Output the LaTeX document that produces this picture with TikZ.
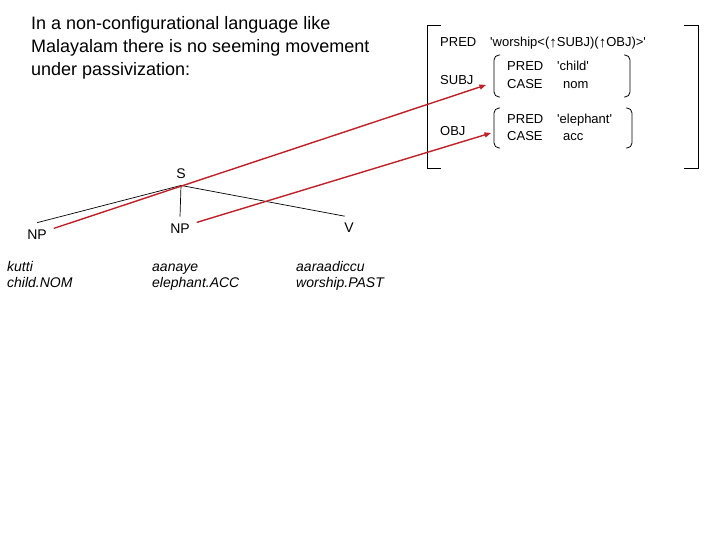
\documentclass[tikz,border=0pt]{standalone}
\usepackage{fontspec}
\setmainfont{Liberation Sans}[Ligatures=TeXOff]
\usetikzlibrary{arrows.meta}
\definecolor{linkred}{RGB}{192,32,40}

\begin{document}
\begin{tikzpicture}[x=1pt, y=-1pt,
  avm/.style={anchor=base west, inner sep=0pt, font=\fontsize{13}{15}\selectfont},
  cat/.style={font=\fontsize{14}{16}\selectfont, inner sep=1pt, outer sep=6pt},
  gloss/.style={anchor=base west, inner sep=0pt, font=\fontsize{14}{16}\selectfont\itshape},
  branch/.style={draw, line width=0.7pt},
  link/.style={-{Triangle[length=6.5pt,width=5pt]}, linkred, line width=1.4pt},
  bracket/.style={draw, line width=0.8pt},
]
\useasboundingbox (0,0) rectangle (720,540);

% --- intro text ---
\node[anchor=north west, inner sep=0pt, align=left, font=\fontsize{18}{23}\selectfont] (intro) at (31,16)
  {In a non-configurational language like\\Malayalam there is no seeming movement\\under passivization:};

% --- f-structure ---
\draw[bracket] (441,25) -- (427,25) -- (427,168) -- (441,168);
\draw[bracket] (684,25) -- (698,25) -- (698,168) -- (684,168);
\node[avm] (pred) at (440,47) {PRED};
\node[avm] (predval) at (490,47) {'worship<(\raisebox{-0.5pt}{\fontsize{15}{15}\selectfont↑}SUBJ)(\raisebox{-0.5pt}{\fontsize{15}{15}\selectfont↑}OBJ)>'};

\node[avm] (subj) at (440,85) {SUBJ};
\draw[bracket, rounded corners=5pt] (500,55) -- (494,55) -- (494,97) -- (500,97);
\draw[bracket, rounded corners=5pt] (624,55) -- (630,55) -- (630,97) -- (624,97);
\node[avm] (subjpred) at (507,71) {PRED};
\node[avm] (subjpredval) at (557,71) {'child'};
\node[avm] (subjcase) at (507,88.5) {CASE};
\node[avm] (subjcaseval) at (563,88.5) {nom};
\coordinate (subjin) at (486,85);

\node[avm] (obj) at (440,135.5) {OBJ};
\draw[bracket, rounded corners=5pt] (500,108) -- (494,108) -- (494,148) -- (500,148);
\draw[bracket, rounded corners=5pt] (626,108) -- (632,108) -- (632,148) -- (626,148);
\node[avm] (objpred) at (507,123.5) {PRED};
\node[avm] (objpredval) at (557,123.5) {'elephant'};
\node[avm] (objcase) at (507,140.5) {CASE};
\node[avm] (objcaseval) at (563,140.5) {acc};
\coordinate (objin) at (491,133);

% --- c-structure ---
\node[cat] (s) at (181,173.5) {S};
\node[cat] (np1) at (37,234.5) {NP};
\node[cat] (np2) at (180,228.5) {NP};
\node[cat] (v) at (349,228) {V};
\draw[branch] (s.south) -- (np1.north);
\draw[branch] (s.south) -- (np2.north);
\draw[branch] (s.south) -- (v.110);

\node[gloss] (kutti) at (7,271) {kutti};
\node[gloss] (childnom) at (7,287) {child.NOM};
\node[gloss] (aanaye) at (152,271) {aanaye};
\node[gloss] (elephantacc) at (152,287) {elephant.ACC};
\node[gloss] (aaraadiccu) at (296,271) {aaraadiccu};
\node[gloss] (worshippast) at (296,287) {worship.PAST};

% --- correspondence arrows ---
\draw[link] (np1.20) -- (subjin);
\draw[link] (np2.20) -- (objin);
\end{tikzpicture}
\end{document}
